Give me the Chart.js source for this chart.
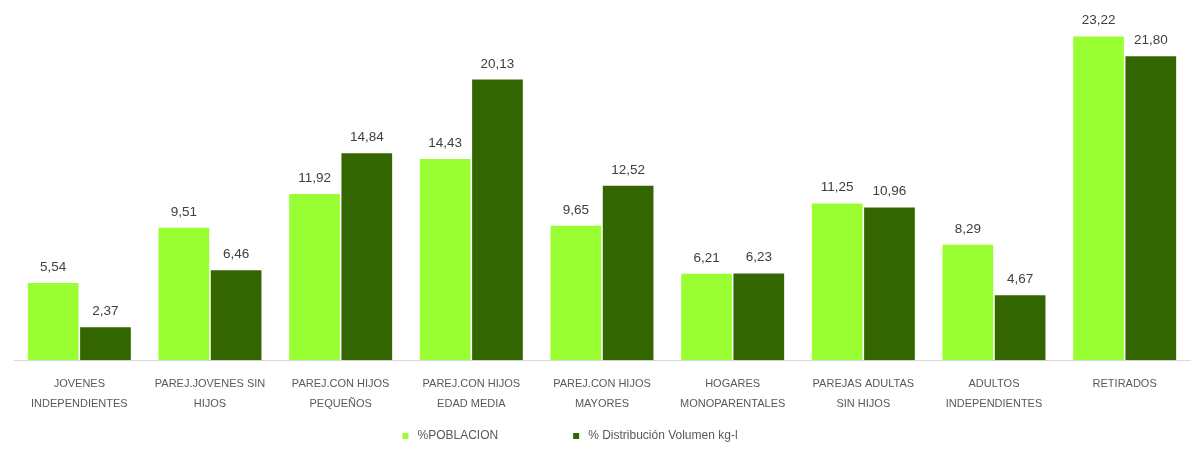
<!DOCTYPE html>
<html>
<head>
<meta charset="utf-8">
<script src="https://cdn.jsdelivr.net/npm/chart.js@4/dist/chart.umd.min.js"></script>
<style>
  body { margin: 0; background: #fff; }
  canvas { display: block; }
</style>
</head>
<body>
<canvas id="grafico" width="1192" height="451"></canvas>
<script>
const categorias = [
    ['JOVENES', 'INDEPENDIENTES'],
    ['PAREJ.JOVENES SIN', 'HIJOS'],
    ['PAREJ.CON HIJOS', 'PEQUEÑOS'],
    ['PAREJ.CON HIJOS', 'EDAD MEDIA'],
    ['PAREJ.CON HIJOS', 'MAYORES'],
    ['HOGARES', 'MONOPARENTALES'],
    ['PAREJAS ADULTAS', 'SIN HIJOS'],
    ['ADULTOS', 'INDEPENDIENTES'],
    ['RETIRADOS']
];
const poblacion = [5.54, 9.51, 11.92, 14.43, 9.65, 6.21, 11.25, 8.29, 23.22];
const volumen = [2.37, 6.46, 14.84, 20.13, 12.52, 6.23, 10.96, 4.67, 21.80];
const nombresSeries = ['%POBLACION', '% Distribución Volumen kg-l'];
const colores = ['#99FF33', '#336600'];

const fuente = '"Liberation Sans", Arial, sans-serif';

// etiquetas de valor encima de cada barra
const etiquetasValor = {
    id: 'etiquetasValor',
    afterDatasetsDraw(chart) {
        const ctx = chart.ctx;
        ctx.save();
        ctx.font = '13.5px ' + fuente;
        ctx.fillStyle = '#404040';
        ctx.textAlign = 'center';
        ctx.textBaseline = 'bottom';
        chart.data.datasets.forEach((ds, i) => {
            chart.getDatasetMeta(i).data.forEach((bar, j) => {
                const txt = ds.data[j].toFixed(2).replace('.', ',');
                ctx.fillText(txt, bar.x, bar.y - 9);
            });
        });
        ctx.restore();
    }
};

// leyenda dibujada a mano para controlar la separación
const leyenda = {
    id: 'leyenda',
    afterDraw(chart) {
        const ctx = chart.ctx;
        ctx.save();
        ctx.font = '12px ' + fuente;
        ctx.textBaseline = 'middle';
        const y = 436;
        const gap = 75;
        const w0 = ctx.measureText(nombresSeries[0]).width;
        const w1 = ctx.measureText(nombresSeries[1]).width;
        const total = 6 + 9 + w0 + gap + 6 + 9 + w1;
        let x = 570 - total / 2;
        nombresSeries.forEach((n, i) => {
            ctx.fillStyle = colores[i];
            ctx.fillRect(x, y - 3, 6, 6);
            ctx.fillStyle = '#595959';
            ctx.fillText(n, x + 15, y);
            x += 15 + ctx.measureText(n).width + gap;
        });
        ctx.restore();
    }
};

new Chart(document.getElementById('grafico').getContext('2d'), {
    type: 'bar',
    data: {
        labels: categorias,
        datasets: [
            { label: nombresSeries[0], data: poblacion, backgroundColor: colores[0] },
            { label: nombresSeries[1], data: volumen, backgroundColor: colores[1] }
        ]
    },
    options: {
        responsive: false,
        animation: false,
        layout: { padding: { left: 14, right: 2, top: 20, bottom: 24 } },
        datasets: { bar: { categoryPercentage: 0.8, barPercentage: 0.97 } },
        plugins: {
            legend: { display: false },
            tooltip: { enabled: false }
        },
        scales: {
            x: {
                grid: { display: false, drawTicks: false },
                border: { display: true, color: '#d9d9d9' },
                ticks: {
                    color: '#595959',
                    font: { family: fuente, size: 11, lineHeight: 1.85 },
                    padding: 13,
                    maxRotation: 0,
                    autoSkip: false
                }
            },
            y: {
                display: false,
                min: 0,
                max: 24.4
            }
        }
    },
    plugins: [etiquetasValor, leyenda]
});
</script>
</body>
</html>
